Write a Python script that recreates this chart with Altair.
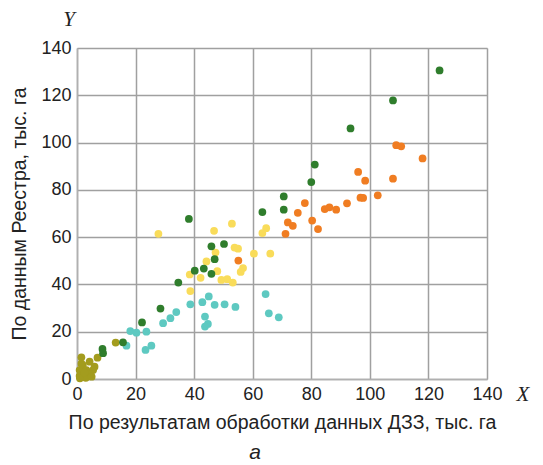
import altair as alt
import pandas as pd

# Data (x = ДЗЗ, y = Реестр), thousand ha
olive_x = [1.5, 4.3, 7.0, 2.0, 0.9, 3.2, 5.5, 2.0, 4.3, 0.9, 6.0, 13.2, 3.0, 1.0, 5.0, 2.5, 1.5]
olive_y = [9.2, 7.3, 9.0, 5.9, 3.8, 3.8, 3.8, 1.7, 2.1, 1.3, 5.2, 15.4, 0.5, 0.3, 1.0, 2.8, 6.5]

teal_x = [18.2, 20.3, 23.7, 23.4, 25.4, 16.9, 29.4, 31.9, 33.9, 38.7, 42.8, 45.0, 47.0, 50.4, 54.1, 43.7, 44.7, 43.7, 64.4, 65.5, 68.9]
teal_y = [20.3, 19.6, 20.0, 12.3, 14.1, 14.1, 23.6, 25.7, 28.3, 31.6, 32.5, 34.9, 31.4, 31.6, 30.5, 26.4, 23.3, 22.2, 35.9, 27.8, 26.1]

yellow_x = [27.8, 52.9, 46.8, 64.6, 63.3, 53.8, 55.0, 60.4, 66.0, 47.3, 44.2, 56.7, 55.9, 47.9, 38.5, 42.2, 49.3, 51.3, 53.2, 38.7]
yellow_y = [61.4, 65.7, 62.7, 63.8, 61.7, 55.6, 55.1, 53.0, 53.0, 53.5, 49.7, 46.9, 45.3, 45.6, 44.2, 42.8, 41.9, 42.2, 40.8, 37.2]

green_x = [123.8, 107.9, 93.4, 81.2, 80.0, 70.6, 70.6, 63.3, 38.2, 45.9, 50.2, 47.0, 40.2, 43.3, 45.9, 34.6, 28.5, 22.2, 15.7, 8.7, 8.9]
green_y = [130.5, 117.8, 106.0, 90.7, 83.3, 77.2, 71.6, 70.6, 67.7, 56.1, 57.1, 50.7, 45.8, 46.7, 44.5, 40.8, 29.8, 23.9, 15.5, 12.7, 10.9]

orange_x = [109.0, 110.7, 118.0, 96.0, 98.4, 107.9, 102.7, 96.8, 97.7, 92.2, 77.8, 75.4, 84.6, 86.2, 88.5, 72.0, 73.7, 80.3, 82.3, 71.2, 55.1]
orange_y = [98.9, 98.4, 93.3, 87.6, 83.9, 84.7, 77.7, 76.7, 76.6, 74.3, 74.4, 70.3, 71.9, 72.6, 71.6, 66.2, 64.8, 67.0, 63.4, 61.4, 50.1]

groups = ["olive", "teal", "yellow", "green", "orange"]
colors = ["#a39c1e", "#5ec9c1", "#f9dc5a", "#2f7d2c", "#f07d22"]
series = [(olive_x, olive_y), (teal_x, teal_y), (yellow_x, yellow_y), (green_x, green_y), (orange_x, orange_y)]

ticks = [0, 20, 40, 60, 80, 100, 120, 140]
x_title = "По результатам обработки данных ДЗЗ, тыс. га"
y_title = "По данным Реестра, тыс. га"
extra_labels = ["Y", "X", "а"]

rows = []
for i, (g, (xs, ys)) in enumerate(zip(groups, series)):
    for x, y in zip(xs, ys):
        rows.append({"x": x, "y": y, "g": g, "o": i})
df = pd.DataFrame(rows)

FONT = "Liberation Sans"

axis_style = dict(
    values=ticks, grid=True, ticks=False,
    labelFontSize=18, titleFontSize=19.5, labelFont=FONT, titleFont=FONT,
    titleFontWeight="normal", labelColor="#222", titleColor="#222",
    gridColor="#a0a0a0", gridWidth=1.5,
    domainColor="#b0b0b0", domainWidth=1.5, labelFlush=False,
)

points = alt.Chart(df).mark_circle(size=60, opacity=1).encode(
    x=alt.X("x:Q", scale=alt.Scale(domain=[0, 140], nice=False),
            axis=alt.Axis(title=x_title, labelPadding=6, titlePadding=10, **axis_style)),
    y=alt.Y("y:Q", scale=alt.Scale(domain=[0, 140], nice=False),
            axis=alt.Axis(title=y_title, labelPadding=6, titlePadding=11, **axis_style)),
    color=alt.Color("g:N", scale=alt.Scale(domain=groups, range=colors), legend=None),
    order=alt.Order("o:Q"),
)

lab = pd.DataFrame({"t": extra_labels})
ylab = alt.Chart(lab[lab.t == "Y"]).mark_text(
    font="Liberation Serif", fontStyle="italic", fontSize=21, color="#222"
).encode(x=alt.value(-8), y=alt.value(-28), text="t:N")
xlab = alt.Chart(lab[lab.t == "X"]).mark_text(
    font="Liberation Serif", fontStyle="italic", fontSize=21, color="#222"
).encode(x=alt.value(446), y=alt.value(347), text="t:N")
alab = alt.Chart(lab[lab.t == "а"]).mark_text(
    font=FONT, fontStyle="italic", fontSize=21, color="#222"
).encode(x=alt.value(178), y=alt.value(405), text="t:N")

chart = alt.layer(points, ylab, xlab, alab).properties(
    width=410, height=331,
    autosize=alt.AutoSizeParams(type="none"),
    padding={"left": 69, "top": 40, "right": 48, "bottom": 86},
).configure_view(stroke=None).configure(background="white")

chart.save("out.html", embed_options={"renderer": "svg", "actions": False})
